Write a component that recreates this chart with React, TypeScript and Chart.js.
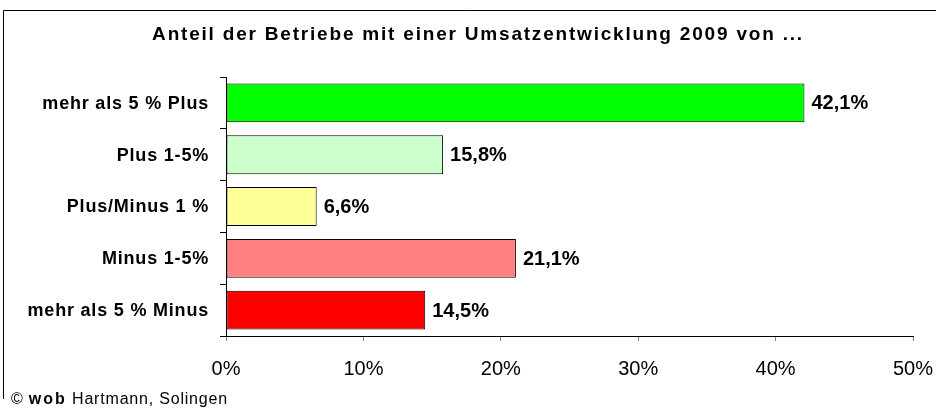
import React, { useEffect, useRef } from "react";
import { Chart, registerables } from "chart.js";

Chart.register(...registerables);

const TITLE = "Anteil der Betriebe mit einer Umsatzentwicklung 2009 von ...";
const CATEGORIES = [
  "mehr als 5 % Plus",
  "Plus 1-5%",
  "Plus/Minus 1 %",
  "Minus 1-5%",
  "mehr als 5 % Minus",
];
const VALUES = [42.1, 15.8, 6.6, 21.1, 14.5];
const VALUE_LABELS = ["42,1%", "15,8%", "6,6%", "21,1%", "14,5%"];
const COLORS = ["#00FF00", "#CCFFCC", "#FFFF99", "#FF8080", "#FF0000"];
const X_TICKS = [0, 10, 20, 30, 40, 50];

const FONT = "'Liberation Sans', Arial, sans-serif";

const decorPlugin = {
  id: "decor",
  afterDraw(chart: any) {
    const ctx = chart.ctx as CanvasRenderingContext2D;
    const yScale = chart.scales.y;
    const xScale = chart.scales.x;
    ctx.save();
    // frame
    ctx.strokeStyle = "#000";
    ctx.lineWidth = 1;
    ctx.beginPath();
    ctx.moveTo(3.5, 399);
    ctx.lineTo(3.5, 10.5);
    ctx.lineTo(936, 10.5);
    ctx.stroke();

    // title
    ctx.fillStyle = "#000";
    ctx.font = `bold 19px ${FONT}`;
    (ctx as any).letterSpacing = "1.8px";
    ctx.textAlign = "center";
    ctx.textBaseline = "middle";
    ctx.fillText(TITLE, 478, 35);

    // category labels
    ctx.font = `bold 18px ${FONT}`;
    (ctx as any).letterSpacing = "0.8px";
    ctx.textAlign = "right";
    CATEGORIES.forEach((c, i) => {
      ctx.fillText(c, 209, yScale.getPixelForValue(i) + 1);
    });

    // value labels
    ctx.font = `bold 20px ${FONT}`;
    (ctx as any).letterSpacing = "0px";
    ctx.textAlign = "left";
    VALUES.forEach((v, i) => {
      ctx.fillText(VALUE_LABELS[i], xScale.getPixelForValue(v) + 7, yScale.getPixelForValue(i) + 1);
    });

    // footer
    ctx.textBaseline = "alphabetic";
    let x = 11;
    const by = 404;
    ctx.font = `16px ${FONT}`;
    (ctx as any).letterSpacing = "0.8px";
    ctx.fillText("© ", x, by);
    x += ctx.measureText("© ").width;
    ctx.font = `bold 16px ${FONT}`;
    (ctx as any).letterSpacing = "2px";
    ctx.fillText("wob", x, by);
    x += ctx.measureText("wob").width;
    (ctx as any).letterSpacing = "0.8px";
    ctx.font = `16px ${FONT}`;
    ctx.fillText(" Hartmann, Solingen", x, by);
    ctx.restore();
  },
};

export default function App() {
  const ref = useRef<HTMLCanvasElement | null>(null);
  useEffect(() => {
    if (!ref.current) return;
    const chart = new Chart(ref.current, {
      type: "bar",
      data: {
        labels: CATEGORIES,
        datasets: [
          {
            data: VALUES,
            backgroundColor: COLORS,
            borderColor: "#000",
            borderWidth: 1,
            borderSkipped: false,
            barPercentage: 0.75,
            categoryPercentage: 1,
          },
        ],
      },
      options: {
        indexAxis: "y",
        animation: false,
        responsive: false,
        maintainAspectRatio: false,
        layout: { padding: { top: 77, bottom: 19, left: 0, right: 23 } },
        plugins: {
          legend: { display: false },
          title: { display: false },
          tooltip: { enabled: false },
        },
        scales: {
          x: {
            min: 0,
            max: 50,
            afterBuildTicks(scale: any) {
              scale.ticks = X_TICKS.map((v) => ({ value: v }));
            },
            afterFit(scale: any) {
              scale.paddingLeft = 0;
              scale.paddingRight = 0;
            },
            grid: {
              drawOnChartArea: false,
              drawTicks: true,
              tickLength: 5,
              color: "#808080",
            },
            border: { display: true, color: "#000", width: 1 },
            ticks: {
              padding: 16,
              color: "#000",
              font: { family: FONT, size: 20 },
              callback: (v: any) => `${v}%`,
              maxRotation: 0,
            },
          },
          y: {
            afterFit(scale: any) {
              scale.width = 226;
            },
            grid: {
              drawOnChartArea: false,
              drawTicks: true,
              tickLength: 6,
              color: "#000",
              offset: true,
            },
            border: { display: true, color: "#000", width: 1 },
            ticks: { display: false },
          },
        },
      },
      plugins: [decorPlugin],
    });
    return () => chart.destroy();
  }, []);
  return (
    <div style={{ position: "absolute", left: 0, top: 0, width: 936, height: 416, background: "#fff" }}>
      <canvas ref={ref} width={936} height={416} style={{ width: 936, height: 416, display: "block" }} />
    </div>
  );
}
